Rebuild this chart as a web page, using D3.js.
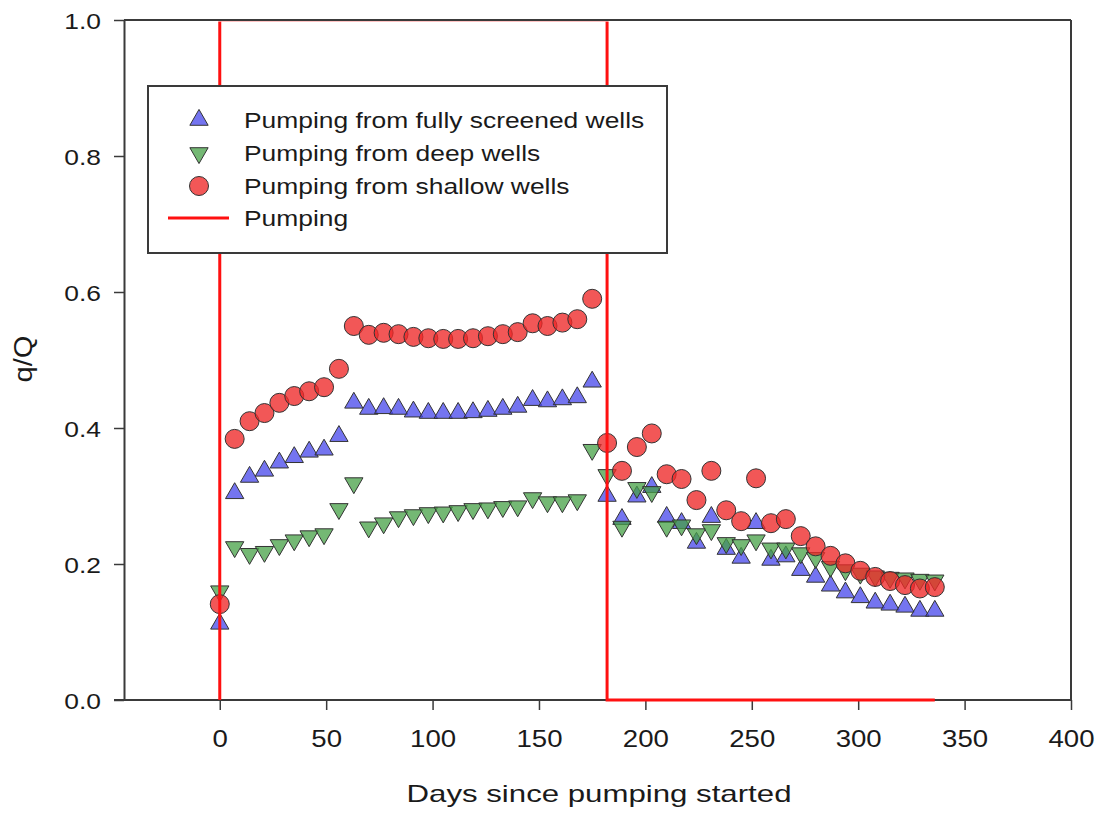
<!DOCTYPE html>
<html><head><meta charset="utf-8">
<script src="https://cdn.jsdelivr.net/npm/d3@7"></script>
<style>
body{margin:0;background:#fff}
svg text{font-family:"Liberation Sans",Arial,Helvetica,sans-serif;fill:#1a1a1a}
</style>
</head><body>
<svg id="chart" width="1100" height="814"></svg>
<script>
// ---- data ----
const days = [0,7,14,21,28,35,42,49,56,63,70,77,84,91,98,105,112,119,126,133,140,147,154,161,168,175,
  182,189,196,203,210,217,224,231,238,245,252,259,266,273,280,287,294,301,308,315,322,329,336];
const fullyScreened = [0.112,0.304,0.328,0.337,0.349,0.357,0.365,0.368,0.388,0.437,0.428,0.429,0.428,0.424,0.422,0.422,0.422,0.423,0.425,0.428,0.431,0.441,0.439,0.442,0.445,0.468,
  0.300,0.266,0.299,0.313,0.269,0.260,0.231,0.269,0.222,0.209,0.260,0.206,0.211,0.191,0.181,0.168,0.158,0.151,0.143,0.140,0.137,0.131,0.131];
const deepWells = [0.160,0.225,0.215,0.218,0.228,0.235,0.241,0.244,0.281,0.319,0.254,0.260,0.269,0.272,0.275,0.276,0.278,0.281,0.282,0.284,0.285,0.297,0.291,0.291,0.294,0.368,
  0.331,0.255,0.312,0.306,0.255,0.257,0.244,0.250,0.231,0.228,0.235,0.223,0.223,0.216,0.209,0.196,0.191,0.186,0.182,0.180,0.179,0.177,0.176];
const shallowWells = [0.141,0.384,0.410,0.422,0.437,0.447,0.454,0.460,0.487,0.550,0.537,0.540,0.538,0.534,0.532,0.531,0.531,0.532,0.535,0.538,0.541,0.554,0.550,0.555,0.560,0.590,
  0.378,0.337,0.372,0.392,0.332,0.325,0.294,0.337,0.279,0.263,0.326,0.260,0.266,0.241,0.226,0.212,0.201,0.190,0.181,0.175,0.169,0.164,0.166];
const pumpDays = [0,0,182,182,336];
const pumpVals = [0,1,1,0,0];
const xTicks = [0,50,100,150,200,250,300,350,400];
const yTicks = [0,0.2,0.4,0.6,0.8,1.0];
const legendLabels = ["Pumping from fully screened wells","Pumping from deep wells","Pumping from shallow wells","Pumping"];

// ---- layout ----
const L = 124, R = 1071, T = 20, B = 700;
const svg = d3.select("#chart");
const x = d3.scaleLinear().domain([-45,400]).range([L,R]);
const y = d3.scaleLinear().domain([0,1]).range([B,T]);
const SX = 1.2;
const frameColor = "#3a3a3a";

svg.append("defs").append("clipPath").attr("id","pclip")
  .append("rect").attr("x",L-5).attr("y",T+1.5).attr("width",R-L+10).attr("height",B-T+5);

// axes
const gx = svg.append("g").attr("transform",`translate(0,${B})`)
  .call(d3.axisBottom(x).tickValues(xTicks).tickSize(10).tickSizeOuter(0).tickFormat(d3.format("d")));
gx.select(".domain").attr("stroke",frameColor).attr("stroke-width",2).attr("d",`M${L-10},0H${R}`);
gx.selectAll(".tick line").attr("stroke",frameColor).attr("stroke-width",1.5);
gx.selectAll(".tick text").attr("y",0).attr("dy",0).attr("font-size",23)
  .attr("transform",`translate(0,47) scale(${SX},1)`).attr("fill","#1a1a1a");

const gy = svg.append("g").attr("transform",`translate(${L},0)`)
  .call(d3.axisLeft(y).tickValues(yTicks).tickSize(10).tickSizeOuter(0).tickFormat(d3.format(".1f")));
gy.select(".domain").attr("stroke",frameColor).attr("stroke-width",2);
gy.selectAll(".tick line").attr("stroke",frameColor).attr("stroke-width",1.5);
gy.selectAll(".tick text").attr("x",0).attr("dy",0).attr("font-size",22)
  .attr("transform",`translate(-23,8) scale(${SX},1)`).attr("fill","#1a1a1a");

// right frame
svg.append("line").attr("x1",R).attr("x2",R).attr("y1",T).attr("y2",B)
  .attr("stroke",frameColor).attr("stroke-width",2);

// markers
const triSize = 145, circR = 9.5;
const tri = d3.symbol().type(d3.symbolTriangle).size(triSize);
const series = [
  {vals: fullyScreened, fill:"rgba(70,70,235,0.75)", kind:"up"},
  {vals: deepWells, fill:"rgba(70,160,70,0.75)", kind:"down"},
  {vals: shallowWells, fill:"rgba(238,40,40,0.78)", kind:"circle"}
];
series.forEach(s => {
  const g = svg.append("g");
  const pts = days.map((d,i)=>({d, v:s.vals[i]}));
  if (s.kind === "circle") {
    g.selectAll("circle").data(pts).join("circle")
      .attr("cx",p=>x(p.d)).attr("cy",p=>y(p.v)).attr("r",circR)
      .attr("fill",s.fill).attr("stroke","#333").attr("stroke-width",1);
  } else {
    g.selectAll("path").data(pts).join("path")
      .attr("d",tri)
      .attr("transform",p=>`translate(${x(p.d)},${y(p.v)})${s.kind==="down"?" rotate(180)":""}`)
      .attr("fill",s.fill).attr("stroke","#333").attr("stroke-width",1);
  }
});

// pumping line
svg.append("path")
  .datum(pumpDays.map((d,i)=>[d,pumpVals[i]]))
  .attr("clip-path","url(#pclip)")
  .attr("d",d3.line().x(p=>x(p[0])).y(p=>y(p[1])))
  .attr("fill","none").attr("stroke","#ff1010").attr("stroke-width",3);

// top frame
svg.append("line").attr("x1",L).attr("x2",R).attr("y1",T).attr("y2",T)
  .attr("stroke",frameColor).attr("stroke-width",2);

// legend
const lg = svg.append("g");
lg.append("rect").attr("x",148).attr("y",86).attr("width",519).attr("height",167)
  .attr("fill","#fff").attr("stroke",frameColor).attr("stroke-width",2);
const rowY = [120,153,186,218];
legendLabels.forEach((lab,i)=>{
  lg.append("text").attr("x",0).attr("y",0).attr("font-size",22)
    .attr("transform",`translate(244,${rowY[i]+8}) scale(${SX},1)`).text(lab);
});
lg.append("path").attr("d",tri).attr("transform",`translate(199,${rowY[0]})`)
  .attr("fill",series[0].fill).attr("stroke","#333");
lg.append("path").attr("d",tri).attr("transform",`translate(199,${rowY[1]}) rotate(180)`)
  .attr("fill",series[1].fill).attr("stroke","#333");
lg.append("circle").attr("cx",199).attr("cy",rowY[2]).attr("r",circR)
  .attr("fill",series[2].fill).attr("stroke","#333");
lg.append("line").attr("x1",168).attr("x2",229).attr("y1",rowY[3]).attr("y2",rowY[3])
  .attr("stroke","#ff1010").attr("stroke-width",3);

// axis titles
svg.append("text").attr("x",599).attr("y",802).attr("text-anchor","middle")
  .attr("font-size",24).attr("textLength",385).attr("lengthAdjust","spacingAndGlyphs")
  .text("Days since pumping started");
svg.append("text").attr("transform","translate(32,359) rotate(-90)").attr("text-anchor","middle")
  .attr("font-size",26).attr("textLength",47).attr("lengthAdjust","spacingAndGlyphs")
  .text("q/Q");
</script>
</body></html>
